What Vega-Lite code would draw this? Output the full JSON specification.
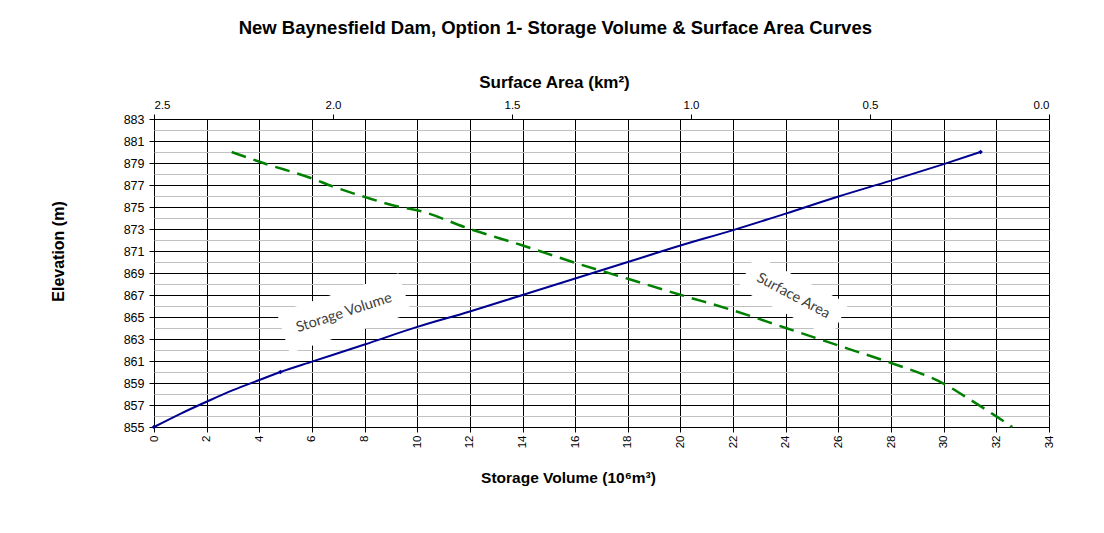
{
  "$schema": "https://vega.github.io/schema/vega-lite/v6.json",
  "width": 895,
  "height": 308,
  "autosize": "none",
  "padding": {"left": 154, "top": 119, "right": 55, "bottom": 106},
  "background": "white",
  "config": {
    "font": "Liberation Sans",
    "view": {"stroke": "black", "strokeWidth": 1},
    "axis": {"labelColor": "black", "titleColor": "black", "tickColor": "black", "labelFont": "Liberation Sans", "titleFont": "Liberation Sans"}
  },
  "title": {
    "text": "New Baynesfield Dam, Option 1- Storage Volume & Surface Area Curves",
    "fontSize": 18.5,
    "fontWeight": "bold",
    "font": "Liberation Sans",
    "color": "black",
    "anchor": "middle",
    "frame": "bounds",
    "offset": 36,
    "dx": 3
  },
  "datasets": {
    "volume": [
      {"volume": 0, "elev": 855},
      {"volume": 1, "elev": 856.2},
      {"volume": 2, "elev": 857.3},
      {"volume": 3, "elev": 858.35},
      {"volume": 4, "elev": 859.27},
      {"volume": 4.8, "elev": 860},
      {"volume": 6, "elev": 860.94},
      {"volume": 8, "elev": 862.5},
      {"volume": 10, "elev": 864.1},
      {"volume": 12, "elev": 865.5},
      {"volume": 14, "elev": 867.0},
      {"volume": 16, "elev": 868.5},
      {"volume": 18, "elev": 870.0},
      {"volume": 20, "elev": 871.5},
      {"volume": 22, "elev": 872.9},
      {"volume": 24, "elev": 874.4},
      {"volume": 26, "elev": 875.95},
      {"volume": 28, "elev": 877.4},
      {"volume": 30, "elev": 878.9},
      {"volume": 31.4, "elev": 880}
    ],
    "volume_pts": [
      {"volume": 0, "elev": 855},
      {"volume": 4.8, "elev": 860},
      {"volume": 31.4, "elev": 880}
    ],
    "area": [
      {"area": 2.283, "elev": 880},
      {"area": 2.195, "elev": 879},
      {"area": 2.059, "elev": 877.6},
      {"area": 1.999, "elev": 876.85},
      {"area": 1.91, "elev": 875.9},
      {"area": 1.813, "elev": 875.0},
      {"area": 1.765, "elev": 874.7},
      {"area": 1.617, "elev": 873.0},
      {"area": 1.47, "elev": 871.5},
      {"area": 1.321, "elev": 869.9},
      {"area": 1.174, "elev": 868.45},
      {"area": 1.028, "elev": 867.0},
      {"area": 0.882, "elev": 865.6},
      {"area": 0.735, "elev": 864.0},
      {"area": 0.556, "elev": 862.06},
      {"area": 0.439, "elev": 860.8},
      {"area": 0.292, "elev": 858.9},
      {"area": 0.221, "elev": 857.5},
      {"area": 0.146, "elev": 855.94},
      {"area": 0.1025, "elev": 855}
    ],
    "label_sv": [{"volume": 7.22, "elev": 865.36, "label": "Storage Volume"}],
    "label_sa": [{"volume": 24.28, "elev": 866.9, "label": "Surface Area"}]
  },
  "resolve": {"scale": {"x": "independent"}, "axis": {"y": "independent"}},
  "layer": [
    {
      "encoding": {
        "x": {
          "field": "volume", "type": "quantitative",
          "scale": {"domain": [0, 34], "nice": false, "zero": false},
          "axis": {
            "orient": "bottom",
            "values": [0, 2, 4, 6, 8, 10, 12, 14, 16, 18, 20, 22, 24, 26, 28, 30, 32, 34],
            "title": "Storage Volume (10⁶m³)",
            "titleFontSize": 15.5, "titleFontWeight": "bold", "titlePadding": 23, "titleX": 414,
            "labelAngle": 270, "labelFontSize": 11.5, "labelPadding": 3,
            "domain": false, "tickSize": 5,
            "grid": true, "gridColor": "#000000", "gridOpacity": 1, "gridWidth": 1
          }
        },
        "y": {
          "field": "elev", "type": "quantitative",
          "scale": {"domain": [855, 883], "nice": false, "zero": false},
          "axis": {
            "orient": "left",
            "values": [855, 857, 859, 861, 863, 865, 867, 869, 871, 873, 875, 877, 879, 881, 883],
            "title": "Elevation (m)",
            "titleFontSize": 16, "titleFontWeight": "bold", "titlePadding": 57, "titleY": 132,
            "labelFontSize": 12.5, "labelPadding": 5,
            "domain": false, "tickSize": 5,
            "grid": true, "gridColor": "#000000", "gridOpacity": 1, "gridWidth": 1
          }
        }
      },
      "layer": [
        {
          "data": {"name": "volume"},
          "mark": {"type": "line", "color": "#000090", "strokeWidth": 2, "interpolate": "monotone"}
        },
        {
          "data": {"name": "volume_pts"},
          "mark": {"type": "point", "shape": "diamond", "filled": true, "color": "#000090", "size": 22, "opacity": 1}
        },
        {
          "data": {"name": "label_sv"},
          "mark": {"type": "point", "shape": "M-1,-0.33L1,-0.33L1,0.33L-1,0.33Z", "filled": true, "color": "white", "opacity": 1, "size": 16384, "angle": -18}
        },
        {
          "data": {"name": "label_sv"},
          "mark": {"type": "text", "font": "Lato", "fontSize": 14.5, "color": "#404040", "angle": -18, "align": "center", "baseline": "middle"},
          "encoding": {"text": {"field": "label"}}
        },
        {
          "data": {"name": "label_sa"},
          "mark": {"type": "point", "shape": "M-1,-0.36L1,-0.36L1,0.36L-1,0.36Z", "filled": true, "color": "white", "opacity": 1, "size": 11025, "angle": 28}
        },
        {
          "data": {"name": "label_sa"},
          "mark": {"type": "text", "font": "Lato", "fontSize": 14.5, "color": "#404040", "angle": 28, "align": "center", "baseline": "middle"},
          "encoding": {"text": {"field": "label"}}
        }
      ]
    },
    {
      "data": {"name": "area"},
      "mark": {"type": "line", "color": "#008000", "strokeWidth": 2.5, "strokeDash": [15, 8], "interpolate": "monotone"},
      "encoding": {
        "x": {
          "field": "area", "type": "quantitative",
          "scale": {"domain": [0, 2.5], "reverse": true, "nice": false, "zero": false},
          "axis": {
            "orient": "top",
            "values": [0, 0.5, 1, 1.5, 2, 2.5],
            "format": ".1f",
            "title": "Surface Area (km²)",
            "titleFontSize": 17, "titleFontWeight": "bold", "titlePadding": 8, "titleX": 400,
            "labelFontSize": 11.5, "labelPadding": 4, "labelAngle": 0,
            "domain": false, "tickSize": 5, "grid": false
          }
        },
        "y": {
          "field": "elev", "type": "quantitative",
          "scale": {"domain": [855, 883], "nice": false, "zero": false},
          "axis": {
            "orient": "right",
            "values": [856, 858, 860, 862, 864, 866, 868, 870, 872, 874, 876, 878, 880, 882],
            "title": null, "labels": false, "ticks": false, "domain": false,
            "grid": true, "gridColor": "#c0c0c0", "gridOpacity": 1, "gridWidth": 1
          }
        }
      }
    }
  ]
}
